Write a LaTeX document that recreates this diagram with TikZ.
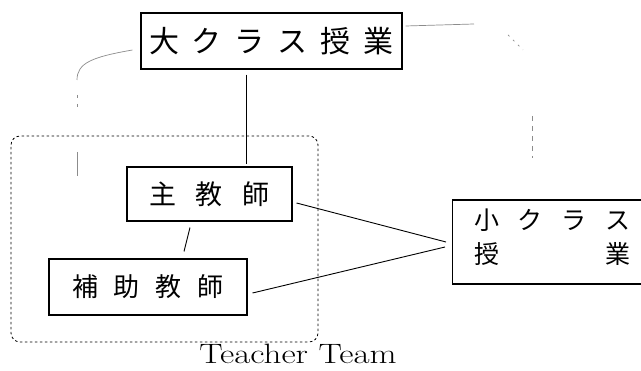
\documentclass[tikz,border=0pt]{standalone}
\usepackage{graphicx}
\usepackage{fontspec}
\newfontfamily\jp{Noto Sans CJK JP}
\begin{document}
\begin{tikzpicture}[x=1pt,y=-1pt,
  box/.style={draw, line width=1.1pt, inner sep=0pt},
  faint/.style={draw=black!45, line width=0.7pt},
  team/.style={draw, dash pattern=on 2.5pt off 2.5pt, line width=0.8pt, rounded corners=9pt},
  link/.style={line width=0.9pt}]
\useasboundingbox (0,0) rectangle (641,371);
\fill[white] (0,0) rectangle (641,371);
% boxes
\node[box, minimum width=261pt, minimum height=56pt] (big) at (271.5,41)
  {\fontsize{30}{30}\jp 大\hspace{13pt}ク\hspace{13pt}ラ\hspace{13pt}ス\hspace{13pt}授\hspace{13pt}業};
\node[team, minimum width=307pt, minimum height=206pt] (team) at (164.5,239) {};
\node[box, minimum width=165pt, minimum height=54pt] (main) at (209.5,194)
  {\fontsize{27}{27}\jp 主\hspace{20pt}教\hspace{20pt}師};
\node[box, minimum width=198pt, minimum height=56pt] (assist) at (148,287)
  {\fontsize{26}{26}\jp 補\hspace{16pt}助\hspace{16pt}教\hspace{16pt}師};
\begin{scope}
  \clip (0,0) rectangle (641,371);
  \node[box, minimum width=200pt, minimum height=84pt, anchor=west] (small) at (452,242) {};
\end{scope}
\node (small1) at (552,220) {\fontsize{25}{25}\jp\makebox[156pt]{小\hfill ク\hfill ラ\hfill ス}};
\node (small2) at (552,254) {\fontsize{25}{25}\jp\makebox[156pt]{授\hfill 業}};
\node[anchor=base, inner sep=0pt, font=\fontsize{28}{28}\selectfont] (label) at (298,364) {\scalebox{1.25}[1]{Teacher Team}};
% connectors
\draw[link] ([xshift=-25.5pt,yshift=-5pt]big.south) -- ([xshift=36.5pt,yshift=2pt]main.north);
\draw[link] ([xshift=-19.5pt,yshift=-6pt]main.south) -- ([xshift=36pt,yshift=7pt]assist.north);
\draw[link] ([xshift=4pt,yshift=-9pt]main.east) -- ([xshift=-6pt]small.west);
\draw[link] ([xshift=5pt,yshift=-6pt]assist.east) -- ([xshift=-7pt,yshift=-5pt]small.west);
% faint connectors
\coordinate (L1) at (77,80);
\coordinate (L2) at (77,95);
\coordinate (L3) at (77,110);
\coordinate (L4) at (77,152);
\coordinate (L5) at (77,176);
\draw[faint] ([xshift=-8pt,yshift=-9pt]big.west) .. controls (92,57) and (77,63) .. (L1);
\draw[faint, dash pattern=on 3pt off 6pt] (L2) -- (L3);
\draw[faint] (L4) -- (L5);
\coordinate (R1) at (474,24);
\coordinate (R2) at (508,35);
\coordinate (R3) at (523,50);
\coordinate (R4) at (532,116);
\coordinate (R5) at (532,158);
\draw[faint] ([xshift=3pt,yshift=15pt]big.east) -- (R1);
\draw[faint, dash pattern=on 2pt off 5pt] (R2) -- (R3);
\draw[faint, dash pattern=on 5pt off 5pt] (R4) -- (R5);
\end{tikzpicture}
\end{document}
